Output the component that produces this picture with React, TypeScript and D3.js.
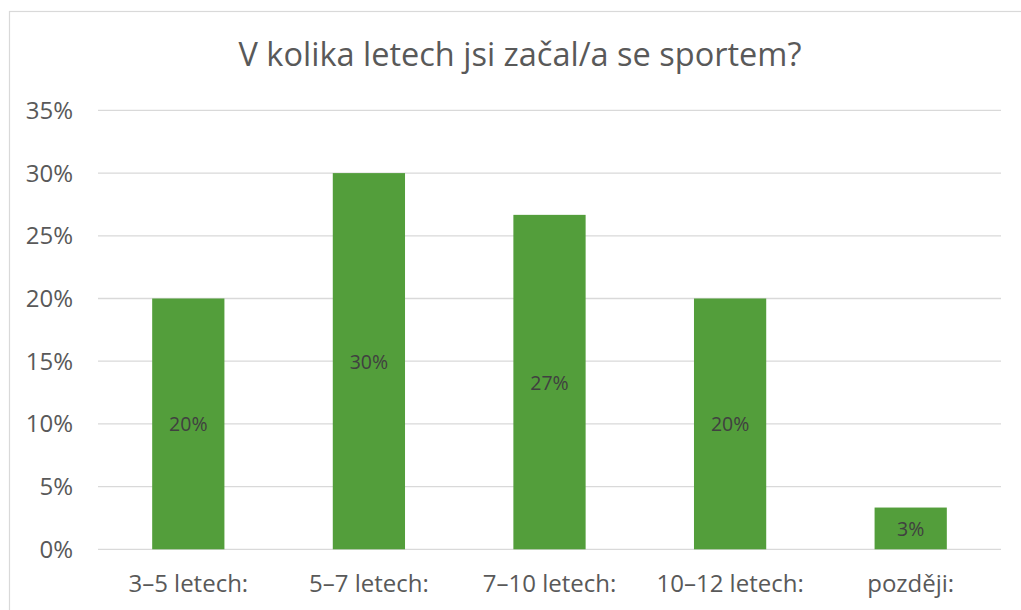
import React from "react";
import * as d3 from "d3";

const categories = ["3–5 letech:", "5–7 letech:", "7–10 letech:", "10–12 letech:", "později:"];
const values = [0.2, 0.3, 0.2667, 0.2, 0.0333];
const yTicks = [0, 0.05, 0.1, 0.15, 0.2, 0.25, 0.3, 0.35];
const title = "V kolika letech jsi začal/a se sportem?";

const W = 1021;
const H = 610;
const FONT = "'Open Sans', 'Liberation Sans', sans-serif";

export default function App() {
  const left = 98, right = 1001, top = 110.4, bottom = 549.3;
  const x = d3.scaleBand<string>().domain(categories).range([left, right]).paddingInner(0.6).paddingOuter(0.3);
  const y = d3.scaleLinear().domain([0, 0.35]).range([bottom, top]);
  const pct = d3.format(".0%");
  return (
    <svg width={W} height={H} style={{ position: "absolute", left: 0, top: 0 }}>
      <rect x={0} y={0} width={W} height={H} fill="#fff" />
      <rect x={9.5} y={11.5} width={W + 20} height={H + 20} fill="#fff" stroke="#d9d9d9" strokeWidth={1.2} />
      <text x={520} y={66} textAnchor="middle" fontFamily={FONT} fontSize={32.5} fill="#595959">{title}</text>
      {yTicks.map((t) => (
        <g key={t}>
          <line x1={left} x2={right} y1={y(t)} y2={y(t)} stroke="#d9d9d9" strokeWidth={1.3} />
          <text x={73} y={y(t) + 8.5} textAnchor="end" fontFamily={FONT} fontSize={24} fill="#595959">{pct(t)}</text>
        </g>
      ))}
      {categories.map((c, i) => (
        <g key={c}>
          <rect x={x(c)} y={y(values[i])} width={x.bandwidth()} height={y(0) - y(values[i])} fill="#539E3B" />
          <text x={(x(c) ?? 0) + x.bandwidth() / 2} y={(y(values[i]) + y(0)) / 2 + 7.5} textAnchor="middle" fontFamily={FONT} fontSize={19.5} fill="#404040">{pct(values[i])}</text>
          <text x={(x(c) ?? 0) + x.bandwidth() / 2} y={592} textAnchor="middle" fontFamily={FONT} fontSize={24} fill="#595959">{c}</text>
        </g>
      ))}
    </svg>
  );
}
